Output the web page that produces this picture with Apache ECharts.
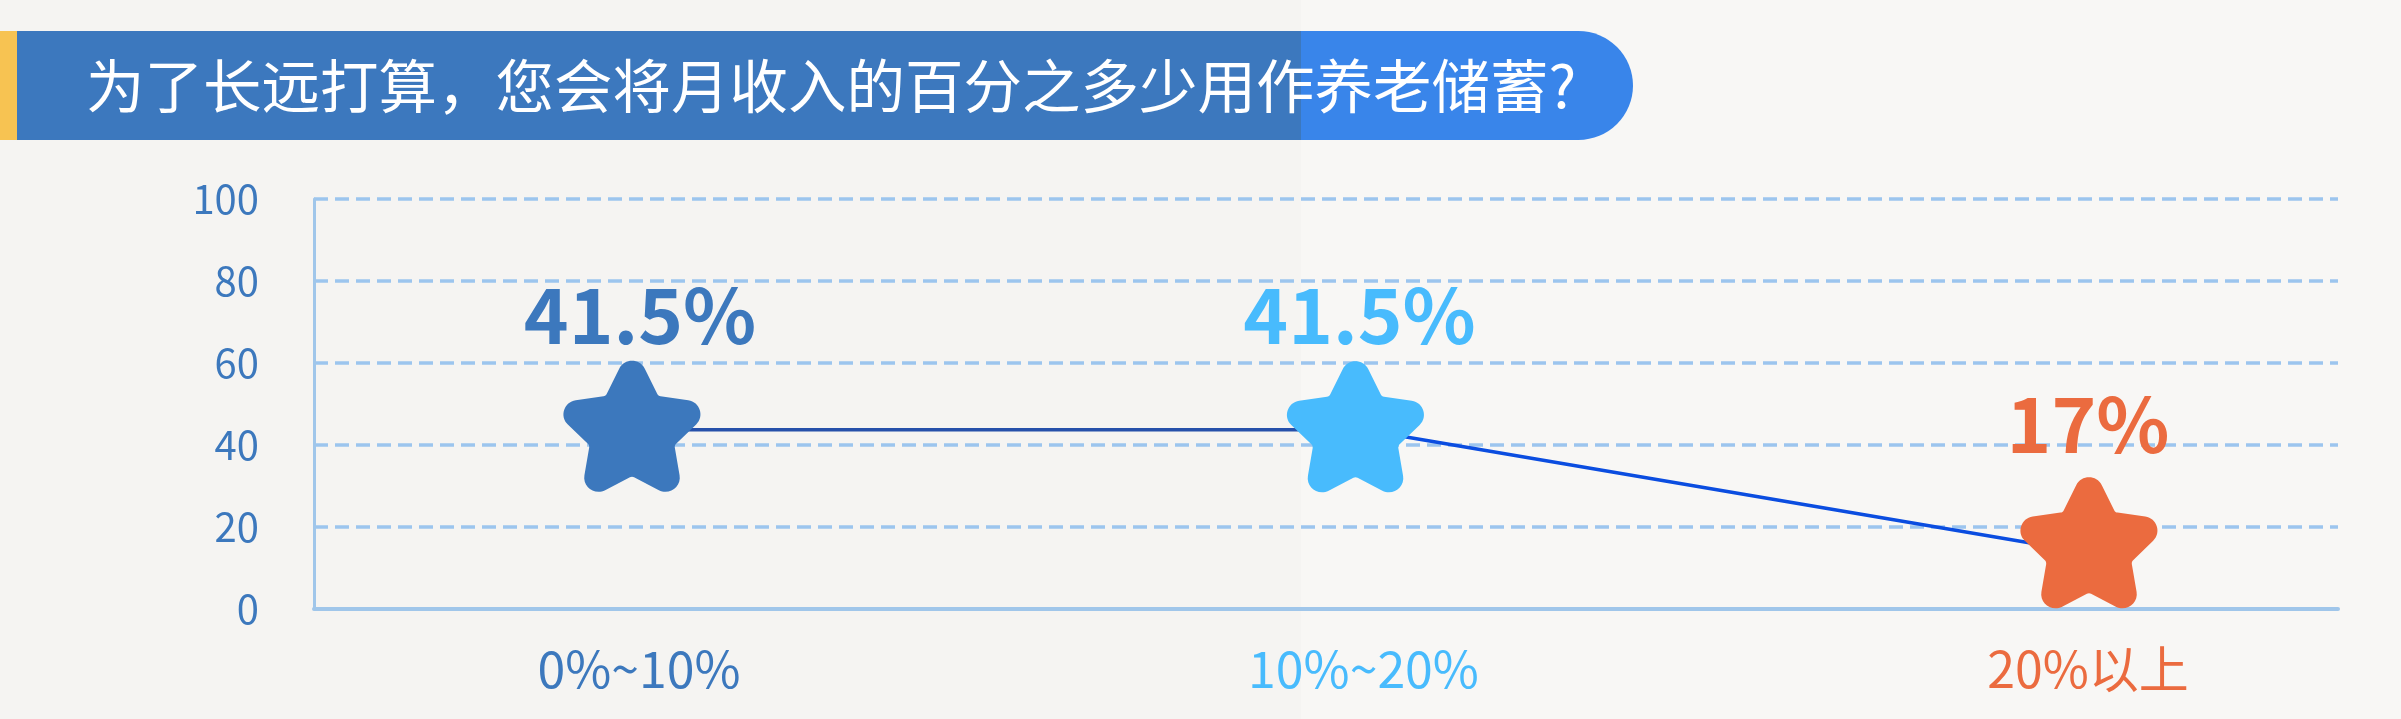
<!DOCTYPE html>
<html>
<head>
<meta charset="utf-8">
<script src="https://cdn.jsdelivr.net/npm/echarts@6/dist/echarts.min.js"></script>
<style>
html,body{margin:0;padding:0;background:#f5f4f2;}
#chart{width:2401px;height:719px;}
</style>
</head>
<body>
<div id="chart"></div>
<script>
// ---- data ----
const titleText = '为了长远打算，您会将月收入的百分之多少用作养老储蓄?';
const categories = ['0%~10%', '10%~20%', '20%以上'];
const shares = [41.5, 41.5, 17];
const yTicks = [0, 20, 40, 60, 80, 100];

// ---- styles ----
const pointColors = ['#3c78bd', '#48bbfd', '#eb6b3f'];
const FONT = '"Noto Sans CJK SC", "Noto Sans", sans-serif';
const symbolOffsets = [[-7, -3.5], [-8, -3], [1, -10]];
const labelOffsets = [[8, 0], [4, 0], [-1, 0]];
const labelDistances = [8, 8, 15];

// rounded five-point star outline (circular fillets at every corner)
function roundedStarPath(k, rOut, rIn) {
  const pts = [];
  for (let i = 0; i < 10; i++) {
    const a = Math.PI / 5 * i;
    const rr = i % 2 === 0 ? 100 : 100 * k;
    pts.push([rr * Math.sin(a), -rr * Math.cos(a)]);
  }
  const f = n => n.toFixed(2);
  let d = '';
  for (let i = 0; i < 10; i++) {
    const p = pts[i], pr = pts[(i + 9) % 10], nx = pts[(i + 1) % 10];
    const rho = i % 2 === 0 ? rOut : rIn;
    const l1 = Math.hypot(pr[0] - p[0], pr[1] - p[1]);
    const l2 = Math.hypot(nx[0] - p[0], nx[1] - p[1]);
    const e1 = [(pr[0] - p[0]) / l1, (pr[1] - p[1]) / l1];
    const e2 = [(nx[0] - p[0]) / l2, (nx[1] - p[1]) / l2];
    const th = Math.acos(Math.max(-1, Math.min(1, e1[0] * e2[0] + e1[1] * e2[1])));
    const t = rho / Math.tan(th / 2);
    const phi = Math.PI - th;
    const h = 4 / 3 * Math.tan(phi / 4) * rho;
    const T1 = [p[0] + e1[0] * t, p[1] + e1[1] * t];
    const T2 = [p[0] + e2[0] * t, p[1] + e2[1] * t];
    const C1 = [T1[0] - e1[0] * h, T1[1] - e1[1] * h];
    const C2 = [T2[0] - e2[0] * h, T2[1] - e2[1] * h];
    d += (i === 0 ? 'M' : 'L') + f(T1[0]) + ' ' + f(T1[1]) +
      ' C' + f(C1[0]) + ' ' + f(C1[1]) + ' ' + f(C2[0]) + ' ' + f(C2[1]) + ' ' + f(T2[0]) + ' ' + f(T2[1]) + ' ';
  }
  return 'path://' + d + 'Z';
}
const starSymbol = roundedStarPath(0.5, 16, 5);

const chart = echarts.init(document.getElementById('chart'), null, {renderer: 'canvas'});

const seriesData = shares.map((v, i) => ({
  value: v,
  symbolOffset: symbolOffsets[i],
  itemStyle: {color: pointColors[i]},
  label: {color: pointColors[i], distance: labelDistances[i], offset: labelOffsets[i]}
}));

const option = {
  animation: false,
  backgroundColor: '#f5f4f2',
  graphic: [
    {type: 'rect', z: -100, silent: true, shape: {x: 1301, y: 0, width: 1100, height: 719}, style: {fill: '#f8f7f5'}},
    {type: 'rect', z: 10, shape: {x: 0, y: 31, width: 17, height: 109}, style: {fill: '#f7c352'}},
    {type: 'rect', z: 10, shape: {x: 17, y: 31, width: 1285, height: 109}, style: {fill: '#3c78be'}},
    {type: 'rect', z: 10, shape: {x: 1301, y: 31, width: 332, height: 109, r: [0, 54.5, 54.5, 0]}, style: {fill: '#3985ea'}},
    {type: 'text', z: 11, x: 86, y: 86, style: {text: titleText, fill: '#ffffff', font: 'normal 58.5px ' + FONT, verticalAlign: 'middle', align: 'left'}}
  ],
  grid: [
    {left: 314, right: 63, top: 199, bottom: 110, containLabel: false},
    {left: 639, right: 313, top: 199, bottom: 110, containLabel: false}
  ],
  xAxis: [
    {
      gridIndex: 0, type: 'value', min: 0, max: 1,
      axisLine: {show: true, lineStyle: {color: '#a0c6ea', width: 4}},
      axisTick: {show: false}, axisLabel: {show: false}, splitLine: {show: false}
    },
    {
      gridIndex: 1, type: 'category', data: categories, boundaryGap: false,
      axisLine: {show: false}, axisTick: {show: false}, splitLine: {show: false},
      axisLabel: {
        margin: 35, fontSize: 50, fontFamily: FONT,
        color: (val, idx) => pointColors[idx !== undefined ? idx : categories.indexOf(val)]
      }
    }
  ],
  yAxis: [
    {
      gridIndex: 0, type: 'value', min: yTicks[0], max: yTicks[yTicks.length - 1], interval: yTicks[1] - yTicks[0],
      axisLine: {show: true, lineStyle: {color: '#a0c6ea', width: 3}},
      axisTick: {show: false},
      axisLabel: {margin: 55, fontSize: 40, fontFamily: FONT, color: '#3c78bd'},
      splitLine: {show: true, lineStyle: {color: '#9cc5ee', width: 3.5, type: [14, 7]}}
    },
    {
      gridIndex: 1, type: 'value', min: 5.8, max: 87.5, show: false,
      splitLine: {show: false}
    }
  ],
  series: [{
    type: 'line',
    xAxisIndex: 1, yAxisIndex: 1,
    data: seriesData,
    symbol: starSymbol,
    symbolSize: [137, 131],
    showSymbol: true,
    lineStyle: {
      width: 3.5,
      color: {
        type: 'linear', x: 0, y: 0, x2: 2401, y2: 0, global: true,
        colorStops: [
          {offset: 0, color: '#2650aa'},
          {offset: 0.5420, color: '#2650aa'},
          {offset: 0.5421, color: '#0b4de0'},
          {offset: 1, color: '#0b4de0'}
        ]
      }
    },
    label: {
      show: true, position: 'top',
      formatter: p => p.value + '%',
      fontSize: 76, fontWeight: 'bold', fontFamily: FONT
    },
    emphasis: {disabled: true}
  }]
};
chart.setOption(option);
</script>
</body>
</html>
